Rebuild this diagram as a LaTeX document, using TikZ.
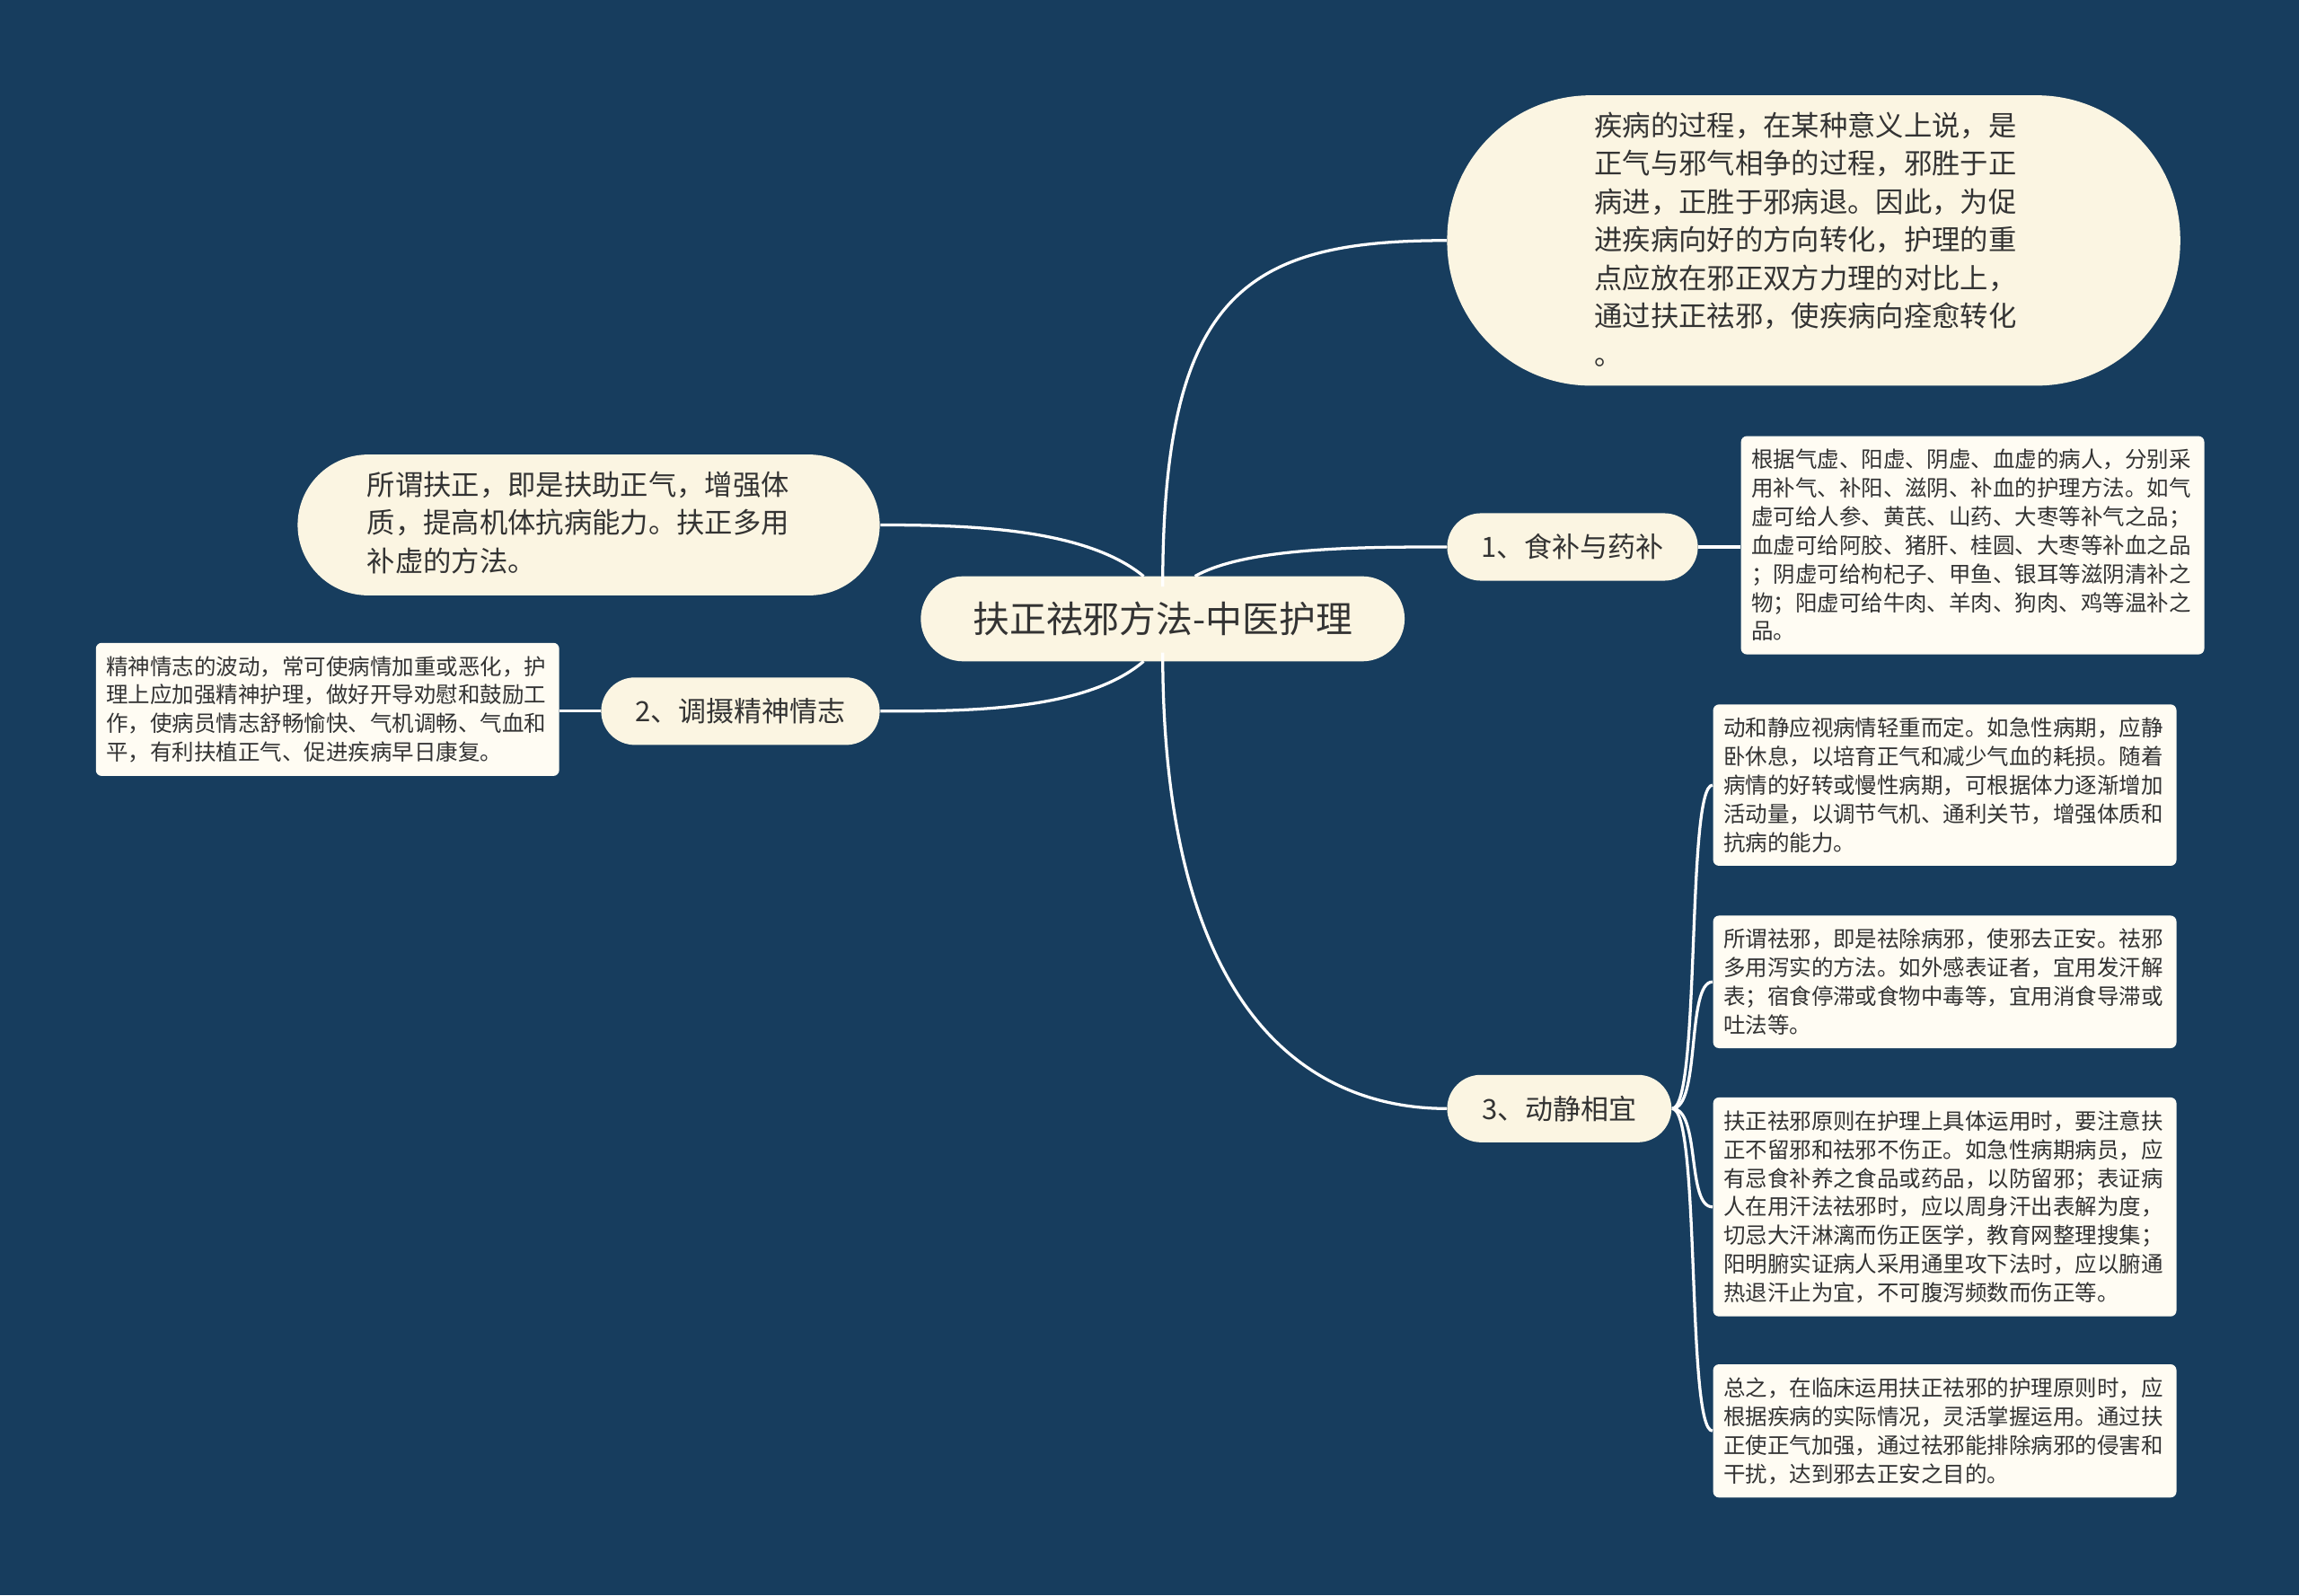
\documentclass[tikz,border=0pt]{standalone}
\usepackage{fontspec}
\setmainfont{Noto Sans CJK SC}
\begin{document}
\begin{tikzpicture}[x=0.5pt,y=-0.5pt,
  conn/.style={draw=white,line width=1pt},
  leaf/.style={fill=leafc,draw=none,rounded corners=2pt,text width=151pt,align=left,font=\fontsize{7.5}{9.75}\selectfont,inner xsep=3.5pt,inner ysep=4.5pt,anchor=north west,text=txt},
  mid/.style={fill=bgc,rounded corners=11.5pt,font=\fontsize{9.5}{12}\selectfont,text=txt,minimum height=23pt,inner sep=0pt}]
\definecolor{bg}{HTML}{173D5E}
\definecolor{bgc}{HTML}{FBF5E2}
\definecolor{leafc}{HTML}{FFFCF3}
\definecolor{txt}{HTML}{333333}
\fill[bg] (0,0) rectangle (1568,1088);
\useasboundingbox (0,0) rectangle (1568,1088);
% center
\node[fill=bgc,rounded corners=14.5pt,inner sep=0pt,minimum width=165pt,minimum height=29pt,font=\fontsize{12.5}{15}\selectfont,text=txt] (c) at (793,422) {扶正祛邪方法-中医护理};
% top pill
\node[fill=bgc,rounded corners=49pt,minimum width=250pt,minimum height=99pt] (t) at (1237,164) {};
\node[anchor=north west,align=left,font=\fontsize{9.6}{13}\selectfont,text=txt,inner sep=0pt] (tt) at (1087,76) {疾病的过程，在某种意义上说，是\\正气与邪气相争的过程，邪胜于正\\病进，正胜于邪病退。因此，为促\\进疾病向好的方向转化，护理的重\\点应放在邪正双方力理的对比上，\\通过扶正祛邪，使疾病向痊愈转化\\。};
% left pill
\node[fill=bgc,rounded corners=24pt,minimum width=198.5pt,minimum height=48pt] (l) at (401.5,358) {};
\node[anchor=north west,align=left,font=\fontsize{9.6}{13}\selectfont,text=txt,inner sep=0pt] (lt) at (250,321) {所谓扶正，即是扶助正气，增强体\\质，提高机体抗病能力。扶正多用\\补虚的方法。};
% mid nodes
\node[mid,minimum width=85.5pt] (n1) at (1072.5,373) {1、食补与药补};
\node[mid,minimum width=95pt] (n2) at (505,485) {2、调摄精神情志};
\node[mid,minimum width=76.5pt] (n3) at (1063.5,756) {3、动静相宜};
% leaves
\node[leaf] (b1) at (1187,297) {根据气虚、阳虚、阴虚、血虚的病人，分别采\\用补气、补阳、滋阴、补血的护理方法。如气\\虚可给人参、黄芪、山药、大枣等补气之品；\\血虚可给阿胶、猪肝、桂圆、大枣等补血之品\\；阴虚可给枸杞子、甲鱼、银耳等滋阴清补之\\物；阳虚可给牛肉、羊肉、狗肉、鸡等温补之\\品。};
\node[leaf] (b2) at (65,438) {精神情志的波动，常可使病情加重或恶化，护\\理上应加强精神护理，做好开导劝慰和鼓励工\\作，使病员情志舒畅愉快、气机调畅、气血和\\平，有利扶植正气、促进疾病早日康复。};
\node[leaf] (a1) at (1168,480) {动和静应视病情轻重而定。如急性病期，应静\\卧休息，以培育正气和减少气血的耗损。随着\\病情的好转或慢性病期，可根据体力逐渐增加\\活动量，以调节气机、通利关节，增强体质和\\抗病的能力。};
\node[leaf] (a2) at (1168,624) {所谓祛邪，即是祛除病邪，使邪去正安。祛邪\\多用泻实的方法。如外感表证者，宜用发汗解\\表；宿食停滞或食物中毒等，宜用消食导滞或\\吐法等。};
\node[leaf] (a3) at (1168,748) {扶正祛邪原则在护理上具体运用时，要注意扶\\正不留邪和祛邪不伤正。如急性病期病员，应\\有忌食补养之食品或药品，以防留邪；表证病\\人在用汗法祛邪时，应以周身汗出表解为度，\\切忌大汗淋漓而伤正医学，教育网整理搜集；\\阳明腑实证病人采用通里攻下法时，应以腑通\\热退汗止为宜，不可腹泻频数而伤正等。};
\node[leaf] (a4) at (1168,930) {总之，在临床运用扶正祛邪的护理原则时，应\\根据疾病的实际情况，灵活掌握运用。通过扶\\正使正气加强，通过祛邪能排除病邪的侵害和\\干扰，达到邪去正安之目的。};
% connectors
\coordinate (cs) at (793,400);
\coordinate (cn) at (793,445);
\draw[conn] (cs) .. controls (793,200) and (850,164) .. (t.west);
\draw[conn] (780,393) .. controls (740,360) and (660,358) .. (l.east);
\draw[conn] (780,451) .. controls (740,485) and (660,485) .. (n2.east);
\draw[conn] (815,393) .. controls (850,373) and (930,373) .. (n1.west);
\draw[conn] (cn) .. controls (793,700) and (900,756) .. (n3.west);
\draw[conn] (n1.east) -- (b1.west|-n1.east);
\draw[conn] (n2.west) -- (b2.east|-n2.west);
\foreach \b in {a1,a2,a3,a4}{
  \draw[conn] (n3.east) .. controls (1160,756) and (1150,0|-\b.west) .. (\b.west);
}
\end{tikzpicture}
\end{document}
